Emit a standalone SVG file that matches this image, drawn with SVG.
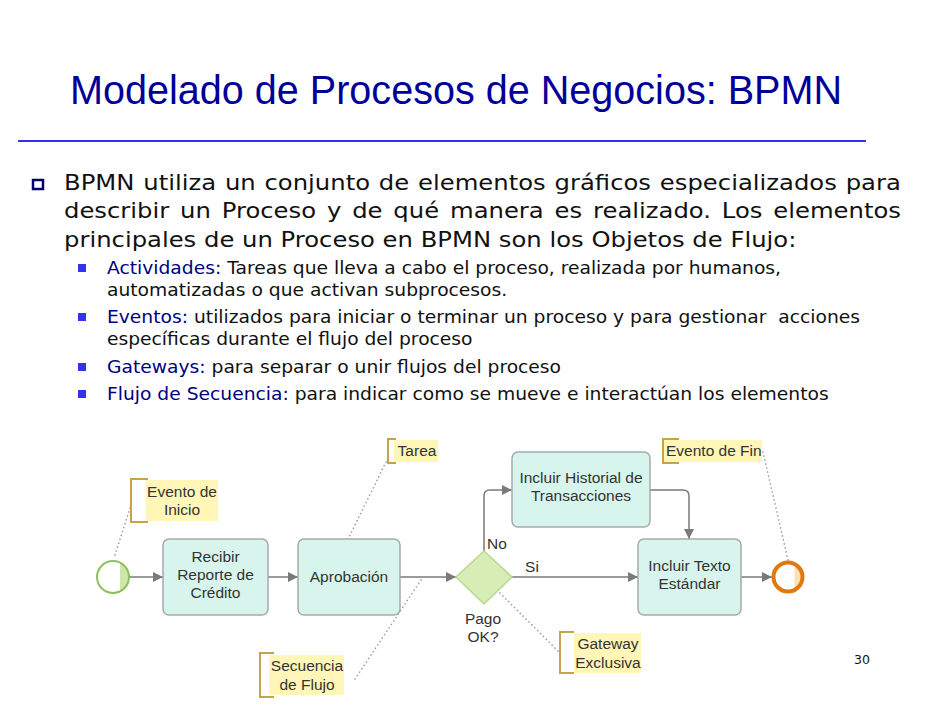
<svg xmlns="http://www.w3.org/2000/svg" width="926" height="708" viewBox="0 0 926 708">
  <defs>
    <marker id="arrow" viewBox="0 0 10 10" refX="10" refY="5" markerWidth="10" markerHeight="10" markerUnits="userSpaceOnUse" orient="auto">
      <path d="M0,0 L10,5 L0,10 z" fill="#7a7a7a"/>
    </marker>
    <linearGradient id="startFill" x1="0" x2="1" y1="0" y2="0">
      <stop offset="0.72" stop-color="#ffffff"/>
      <stop offset="0.73" stop-color="#cde8a8"/>
      <stop offset="1" stop-color="#cde8a8"/>
    </linearGradient>
    <linearGradient id="endFill" x1="0" x2="1" y1="0" y2="0">
      <stop offset="0.72" stop-color="#ffffff"/>
      <stop offset="0.73" stop-color="#fbe0b8"/>
      <stop offset="1" stop-color="#fbe0b8"/>
    </linearGradient>
    <clipPath id="finClip">
      <rect x="660" y="436" width="102" height="30"/>
    </clipPath>
  </defs>
  <style>
    .title { font-family: "Liberation Sans", Arial, sans-serif; font-size: 40px; fill: #000099; }
    .body { font-family: "DejaVu Sans", Verdana, sans-serif; font-size: 20.5px; fill: #111; }
    .sub { font-family: "DejaVu Sans", Verdana, sans-serif; font-size: 17px; fill: #111; }
    .kw { fill: #000080; }
    .task { fill: #d7f5ec; stroke: #a9a9a9; stroke-width: 1.5; }
    .lbl { font-family: "Liberation Sans", Arial, sans-serif; font-size: 15.5px; fill: #333; text-anchor: middle; }
    .lbl.left { text-anchor: start; }
    .flow { fill: none; stroke: #7a7a7a; stroke-width: 1.5; }
    .assoc { fill: none; stroke: #9a9a9a; stroke-width: 1.6; stroke-dasharray: 0.1 4; stroke-linecap: round; }
    .note { fill: #fff6b8; }
    .brk { fill: none; stroke: #c6a24c; stroke-width: 2; }
    .sq { fill: #3333ee; }
  </style>

  <!-- heading -->
  <text class="title" x="70" y="104" textLength="772" lengthAdjust="spacingAndGlyphs">Modelado de Procesos de Negocios: BPMN</text>
  <line x1="18" y1="141" x2="866" y2="141" stroke="#3333ee" stroke-width="2"/>

  <!-- main bullet -->
  <rect x="33" y="180" width="10" height="9" fill="none" stroke="#000066" stroke-width="2.5"/>
  <g transform="translate(64,0) scale(1.185,1)">
    <text class="body" x="0" y="190" word-spacing="0.95">BPMN utiliza un conjunto de elementos gráficos especializados para</text>
    <text class="body" x="0" y="218" word-spacing="2.65">describir un Proceso y de qué manera es realizado. Los elementos</text>
    <text class="body" x="0" y="247">principales de un Proceso en BPMN son los Objetos de Flujo:</text>
  </g>

  <!-- sub bullets -->
  <rect class="sq" x="78" y="264" width="8" height="8"/>
  <rect class="sq" x="78" y="313" width="8" height="8"/>
  <rect class="sq" x="78" y="363" width="8" height="8"/>
  <rect class="sq" x="78" y="390" width="8" height="8"/>
  <g transform="translate(107,0) scale(1.10,1)">
    <text class="sub" x="0" y="274"><tspan class="kw">Actividades:</tspan> Tareas que lleva a cabo el proceso, realizada por humanos,</text>
    <text class="sub" x="0" y="296">automatizadas o que activan subprocesos.</text>
    <text class="sub" x="0" y="323" xml:space="preserve"><tspan class="kw">Eventos:</tspan> utilizados para iniciar o terminar un proceso y para gestionar  acciones</text>
    <text class="sub" x="0" y="345">específicas durante el flujo del proceso</text>
    <text class="sub" x="0" y="373"><tspan class="kw">Gateways:</tspan> para separar o unir flujos del proceso</text>
    <text class="sub" x="0" y="400"><tspan class="kw">Flujo de Secuencia:</tspan> para indicar como se mueve e interactúan los elementos</text>
  </g>

  <!-- sequence flows and associations -->
  <g id="connectors">
    <line class="flow" x1="129" y1="577" x2="163" y2="577" marker-end="url(#arrow)"/>
    <line class="flow" x1="268" y1="577" x2="298" y2="577" marker-end="url(#arrow)"/>
    <line class="flow" x1="400" y1="577" x2="456" y2="577" marker-end="url(#arrow)"/>
    <path class="flow" d="M484,551 V496 Q484,490 490,490 H512" marker-end="url(#arrow)"/>
    <line class="flow" x1="512" y1="577" x2="638" y2="577" marker-end="url(#arrow)"/>
    <path class="flow" d="M650,490 H683 Q689,490 689,496 V539" marker-end="url(#arrow)"/>
    <line class="flow" x1="741" y1="577" x2="772" y2="577" marker-end="url(#arrow)"/>

    <line class="assoc" x1="130" y1="508" x2="114" y2="558"/>
    <line class="assoc" x1="386" y1="462" x2="349" y2="537"/>
    <line class="assoc" x1="355" y1="679" x2="421" y2="580"/>
    <line class="assoc" x1="558" y1="651" x2="499" y2="592"/>
    <line class="assoc" x1="763" y1="452" x2="788" y2="560"/>
  </g>

  <g id="start">
    <circle cx="113" cy="577" r="16" fill="url(#startFill)" stroke="#8fbf5e" stroke-width="2"/>
  </g>

  <g id="recibir">
    <rect class="task" x="163" y="539" width="105" height="76" rx="6"/>
    <text class="lbl" x="215.5" y="562">Recibir</text>
    <text class="lbl" x="215.5" y="580">Reporte de</text>
    <text class="lbl" x="215.5" y="598">Crédito</text>
  </g>

  <g id="aprobacion">
    <rect class="task" x="298" y="539" width="102" height="76" rx="6"/>
    <text class="lbl" x="349" y="582">Aprobación</text>
  </g>

  <g id="gateway">
    <polygon points="484,551 512,577 484,604 456,577" fill="#d8ecb6" stroke="#b8d98e" stroke-width="1.5"/>
    <text class="lbl" x="483" y="624">Pago</text>
    <text class="lbl" x="483" y="642">OK?</text>
    <text class="lbl" x="497" y="549">No</text>
    <text class="lbl" x="532" y="572">Si</text>
  </g>

  <g id="historial">
    <rect class="task" x="512" y="452" width="138" height="75" rx="6"/>
    <text class="lbl" x="581" y="483">Incluir Historial de</text>
    <text class="lbl" x="581" y="501">Transacciones</text>
  </g>

  <g id="texto">
    <rect class="task" x="638" y="539" width="103" height="76" rx="6"/>
    <text class="lbl" x="689.5" y="571">Incluir Texto</text>
    <text class="lbl" x="689.5" y="589">Estándar</text>
  </g>

  <g id="end">
    <circle cx="788" cy="577" r="14.5" fill="url(#endFill)" stroke="#e07a10" stroke-width="4"/>
  </g>

  <!-- annotations -->
  <g id="note-inicio">
    <rect class="note" x="146" y="480" width="72" height="41"/>
    <path class="brk" d="M148,479 H131 V522 H148"/>
    <text class="lbl" x="182" y="497">Evento de</text>
    <text class="lbl" x="182" y="515">Inicio</text>
  </g>

  <g id="note-tarea">
    <rect class="note" x="394" y="440" width="44" height="22"/>
    <path class="brk" d="M396,439 H388 V463 H396"/>
    <text class="lbl" x="417" y="456">Tarea</text>
  </g>

  <g id="note-secuencia">
    <rect class="note" x="269" y="655" width="75" height="40"/>
    <path class="brk" d="M274,653 H260 V697 H274"/>
    <text class="lbl" x="307" y="671">Secuencia</text>
    <text class="lbl" x="307" y="690">de Flujo</text>
  </g>

  <g id="note-gateway">
    <rect class="note" x="574" y="633" width="67" height="40"/>
    <path class="brk" d="M574,632 H560 V673 H574"/>
    <text class="lbl" x="608" y="649">Gateway</text>
    <text class="lbl" x="608" y="668">Exclusiva</text>
  </g>

  <g id="note-fin">
    <rect class="note" x="664" y="440" width="98" height="22"/>
    <path class="brk" d="M679,439 H663 V463 H679"/>
    <text class="lbl left" x="666" y="456" clip-path="url(#finClip)">Evento de Fin</text>
  </g>

  <text x="862" y="664" font-family="DejaVu Sans, Verdana, sans-serif" font-size="12.5" fill="#111" text-anchor="middle">30</text>
</svg>
